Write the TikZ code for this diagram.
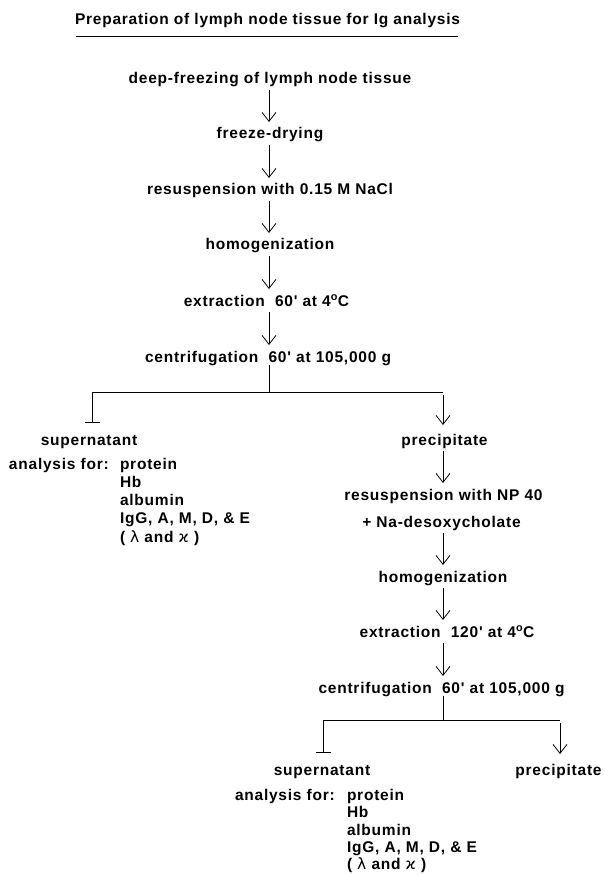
\documentclass[tikz,border=0pt]{standalone}
\usepackage{fontspec}
\setmainfont{Liberation Sans}
\newfontfamily\lab{Liberation Sans}[LetterSpace=5]
\newfontfamily\grk{DejaVu Sans}
\usetikzlibrary{arrows.meta}
\begin{document}
\begin{tikzpicture}[x=1pt,y=-1pt,
  lbl/.style={font=\lab\bfseries\fontsize{15.5}{18}\selectfont, inner sep=0pt,
    outer sep=0pt, text height=11pt, text depth=3pt},
  item/.style={lbl, anchor=west},
  flow/.style={draw, line width=0.8pt, shorten <=3pt, shorten >=6pt,
    -{Straight Barb[length=9pt,width=14pt,line width=0.8pt]}},
  stem/.style={draw, line width=0.8pt},
  cut/.style={draw, line width=0.8pt,
    -{Bar[width=15pt,line width=0.8pt]}}]

\useasboundingbox (0,0) rectangle (603,874);

% heading
\node[lbl] (title) at (267.5,21) {Preparation of lymph node tissue for Ig analysis};
\coordinate (ulL) at (76,37);
\coordinate (ulR) at (458,37);
\draw[line width=1pt] (ulL) -- (ulR);

% columns
\coordinate (c1) at (269,0);
\coordinate (c2) at (443,0);

% first sequence
\node[lbl] (deep)   at (270,80)    {deep-freezing of lymph node tissue};
\node[lbl] (freeze) at (270,135)   {freeze-drying};
\node[lbl] (resA)   at (270,191)   {resuspension with 0.15 M NaCl};
\node[lbl] (homA)   at (270,246)   {homogenization};
\node[lbl] (extA)   at (266.5,302) {extraction\ \ 60' at 4\textsuperscript{o}C};
\node[lbl] (cenA)   at (268,358)   {centrifugation\ \ 60' at 105,000 g};

\draw[flow] (deep.south -| c1)   -- (freeze.north -| c1);
\draw[flow] (freeze.south -| c1) -- (resA.north -| c1);
\draw[flow] (resA.south -| c1)   -- (homA.north -| c1);
\draw[flow] (homA.south -| c1)   -- (extA.north -| c1);
\draw[flow] (extA.south -| c1)   -- (cenA.north -| c1);

% first split
\coordinate (jA)  at (269,392);
\coordinate (bAL) at (92,392);
\coordinate (bAR) at (443,392);
\node[lbl] (supA)  at (89,441)    {supernatant};
\node[lbl] (preA)  at (444.5,441) {precipitate};
\draw[stem] (cenA.south -| c1) -- (jA);
\draw[stem] (bAL) -- (bAR);
\draw[cut, shorten >=11pt] (bAL) -- (supA.north -| bAL);
\draw[flow, shorten >=9pt] (bAR) -- (preA.north -| bAR);

% first analysis list
\node[item] (anA)  at (9,465)     {analysis for:};
\node[item] (pA1)  at (120,465)   {protein};
\node[item] (pA2)  at (120,483.3) {Hb};
\node[item] (pA3)  at (120,501.6) {albumin};
\node[item] (pA4)  at (120,519.9) {IgG, A, M, D, \& E};
\node[item] (pA5)  at (120,538.2) {( {\grk\mdseries λ} and {\grk\mdseries ϰ} )};

% second sequence
\node[lbl] (resB) at (443.5,496) {resuspension with NP 40};
\node[lbl] (desB) at (441.5,523) {+ Na-desoxycholate};
\node[lbl] (homB) at (443,578)   {homogenization};
\node[lbl] (extB) at (447,633)   {extraction\ \ 120' at 4\textsuperscript{o}C};
\node[lbl] (cenB) at (441.5,689) {centrifugation\ \ 60' at 105,000 g};

\draw[flow] (preA.south -| c2) -- (resB.north -| c2);
\draw[flow] (desB.south -| c2) -- (homB.north -| c2);
\draw[flow] (homB.south -| c2) -- (extB.north -| c2);
\draw[flow] (extB.south -| c2) -- (cenB.north -| c2);

% second split
\coordinate (jB)  at (443,720);
\coordinate (bBL) at (323,720);
\coordinate (bBR) at (560,720);
\node[lbl] (supB) at (322,771)   {supernatant};
\node[lbl] (preB) at (558.5,771) {precipitate};
\draw[stem] (cenB.south -| c2) -- (jB);
\draw[stem] (bBL) -- (bBR);
\draw[cut, shorten >=11pt] (bBL) -- (supB.north -| bBL);
\draw[flow, shorten >=10pt] (bBR) -- (preB.north -| bBR);

% second analysis list
\node[item] (anB) at (235,796)   {analysis for:};
\node[item] (pB1) at (347,796)   {protein};
\node[item] (pB2) at (347,813.5) {Hb};
\node[item] (pB3) at (347,831)   {albumin};
\node[item] (pB4) at (347,848.5) {IgG, A, M, D, \& E};
\node[item] (pB5) at (347,865.5) {( {\grk\mdseries λ} and {\grk\mdseries ϰ} )};
\end{tikzpicture}
\end{document}
